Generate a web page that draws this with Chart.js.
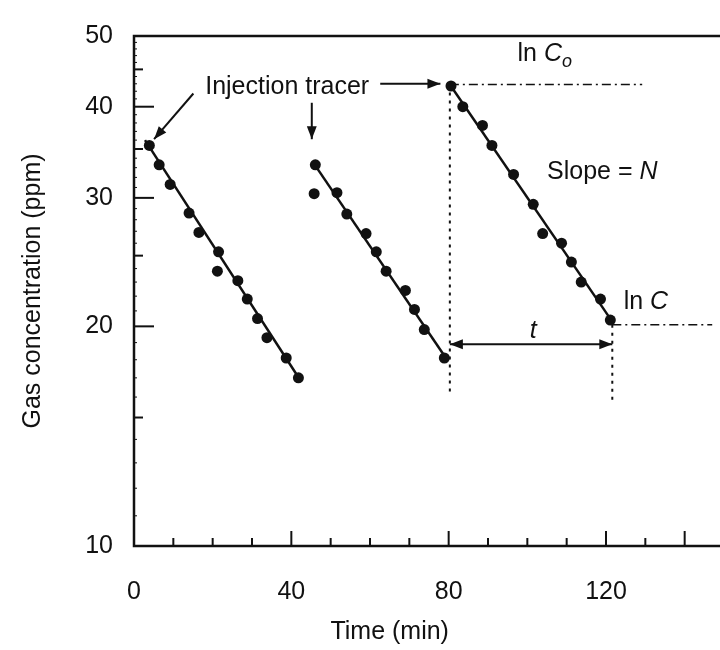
<!DOCTYPE html>
<html>
<head>
<meta charset="utf-8">
<script src="https://cdn.jsdelivr.net/npm/chart.js@4.4.1/dist/chart.umd.min.js"></script>
<style>
  html, body { margin: 0; background: #fff; overflow: hidden; }
  #wrap { width: 730px; height: 650px; }
</style>
</head>
<body>
<div id="wrap"><canvas id="tracer"></canvas></div>
<script>
// measured points, three tracer injections (time in min, concentration in ppm)
const run1Time = [3.9, 6.4, 9.2, 14.0, 16.5, 21.5, 21.2, 26.4, 28.8, 31.4, 33.8, 38.7, 41.8];
const run1Conc = [35.4, 33.3, 31.3, 28.6, 26.9, 25.3, 23.8, 23.1, 21.8, 20.5, 19.3, 18.1, 17.0];
const run2Time = [46.1, 45.8, 51.6, 54.1, 59.0, 61.6, 64.1, 69.0, 71.3, 73.8, 78.9];
const run2Conc = [33.3, 30.4, 30.5, 28.5, 26.8, 25.3, 23.8, 22.4, 21.1, 19.8, 18.1];
const run3Time = [80.6, 83.6, 88.6, 91.0, 96.5, 101.5, 103.9, 108.7, 111.2, 113.7, 118.6, 121.1];
const run3Conc = [42.7, 40.0, 37.7, 35.4, 32.3, 29.4, 26.8, 26.0, 24.5, 23.0, 21.8, 20.4];

// fitted decay lines (start, end)
const fit1Time = [2.8, 42.2];
const fit1Conc = [36.0, 16.9];
const fit2Time = [45.8, 79.6];
const fit2Conc = [33.4, 18.0];
const fit3Time = [80.3, 121.6];
const fit3Conc = [42.9, 20.3];

// construction lines for ln C0, ln C and t
const c0Time = [80.3, 129.2];
const c0Conc = [42.9, 42.9];
const cTime = [121.6, 147.0];
const cConc = [20.1, 20.1];
const drop0Time = [80.3, 80.3];
const drop0Conc = [42.9, 16.2];
const drop1Time = [121.6, 121.6];
const drop1Conc = [20.1, 15.7];
const spanTime = [80.3, 121.6];
const spanConc = [18.9, 18.9];

// "Injection tracer" arrows: [time, conc] tail and tip
const arrowFrom = [[15.1, 41.7], [45.2, 40.5], [62.6, 43.0]];
const arrowTo = [[5.1, 36.1], [45.2, 36.1], [77.9, 43.0]];

// axis ticks
const yTickValues = [10, 20, 30, 40, 50];
const xTickValues = [0, 40, 80, 120];
const xLongTicks = [40, 80, 120, 140];

const ink = '#111';
const FONT = 'Liberation Sans, Arial, Helvetica, sans-serif';
const SIZE = 25;

const pts = (xs, ys) => xs.map((v, i) => ({ x: v, y: ys[i] }));

function dots(xs, ys) {
    return {
        data: pts(xs, ys),
        showLine: false,
        pointRadius: 5.5,
        pointHoverRadius: 5.5,
        pointBackgroundColor: ink,
        pointBorderWidth: 0
    };
}

function path(xs, ys, width, dash) {
    return {
        data: pts(xs, ys),
        showLine: true,
        pointRadius: 0,
        borderColor: ink,
        borderWidth: width,
        borderDash: dash || [],
        tension: 0
    };
}

function arrowHead(ctx, x0, y0, x1, y1, size) {
    const ang = Math.atan2(y1 - y0, x1 - x0);
    const c = Math.cos(ang), s = Math.sin(ang), w = size * 0.38;
    ctx.beginPath();
    ctx.moveTo(x1, y1);
    ctx.lineTo(x1 - size * c + w * s, y1 - size * s - w * c);
    ctx.lineTo(x1 - size * c - w * s, y1 - size * s + w * c);
    ctx.closePath();
    ctx.fill();
}

// draws a run of text pieces, some italic / subscript
function richText(ctx, parts, x, y, align) {
    const fontOf = p => (p.italic ? 'italic ' : '') + (p.sub ? 18 : SIZE) + 'px ' + FONT;
    let total = 0;
    parts.forEach(p => { ctx.font = fontOf(p); total += ctx.measureText(p.t).width; });
    let cx = align === 'center' ? x - total / 2 : x;
    ctx.textAlign = 'left';
    ctx.textBaseline = 'middle';
    parts.forEach(p => {
        ctx.font = fontOf(p);
        ctx.fillText(p.t, cx, p.sub ? y + 8 : y);
        cx += ctx.measureText(p.t).width;
    });
}

const notes = [
    { x: 18.1, y: 42.5, align: 'left', parts: [{ t: 'Injection tracer' }] },
    { x: 97.5, y: 47.2, align: 'left', parts: [{ t: 'ln ' }, { t: 'C', italic: true }, { t: 'o', italic: true, sub: true }] },
    { x: 105.0, y: 32.5, align: 'left', parts: [{ t: 'Slope = ' }, { t: 'N', italic: true }] },
    { x: 124.5, y: 21.6, align: 'left', parts: [{ t: 'ln ' }, { t: 'C', italic: true }] },
    { x: 101.5, y: 19.7, align: 'center', parts: [{ t: 't', italic: true }] }
];

const extras = {
    id: 'extras',
    afterDatasetsDraw(chart) {
        const { ctx, chartArea: a, scales: { x, y } } = chart;
        ctx.save();
        ctx.strokeStyle = ink;
        ctx.fillStyle = ink;

        // frame
        ctx.lineWidth = 2.5;
        ctx.strokeRect(a.left, a.top, a.right - a.left, a.bottom - a.top);

        // inward ticks, left axis
        for (let v = 11; v < 50; v++) {
            const len = v % 10 === 0 ? 20 : (v % 5 === 0 ? 9 : 3);
            ctx.lineWidth = v % 5 === 0 ? 2 : 1;
            const py = y.getPixelForValue(v);
            ctx.beginPath();
            ctx.moveTo(a.left, py);
            ctx.lineTo(a.left + len, py);
            ctx.stroke();
        }
        // inward ticks, bottom axis
        ctx.lineWidth = 2;
        for (let v = 10; v < 150; v += 10) {
            const len = xLongTicks.includes(v) ? 15 : 8;
            const px = x.getPixelForValue(v);
            ctx.beginPath();
            ctx.moveTo(px, a.bottom);
            ctx.lineTo(px, a.bottom - len);
            ctx.stroke();
        }

        // arrows
        ctx.lineWidth = 2;
        arrowFrom.forEach((f, i) => {
            const x0 = x.getPixelForValue(f[0]), y0 = y.getPixelForValue(f[1]);
            const x1 = x.getPixelForValue(arrowTo[i][0]), y1 = y.getPixelForValue(arrowTo[i][1]);
            ctx.beginPath();
            ctx.moveTo(x0, y0);
            ctx.lineTo(x1, y1);
            ctx.stroke();
            arrowHead(ctx, x0, y0, x1, y1, 13);
        });
        const sx0 = x.getPixelForValue(spanTime[0]), sx1 = x.getPixelForValue(spanTime[1]);
        const sy = y.getPixelForValue(spanConc[0]);
        arrowHead(ctx, sx1, sy, sx0, sy, 13);
        arrowHead(ctx, sx0, sy, sx1, sy, 13);

        // labels
        notes.forEach(n => richText(ctx, n.parts, x.getPixelForValue(n.x), y.getPixelForValue(n.y), n.align));

        // x axis title, centred under the visible part of the axis
        ctx.font = SIZE + 'px ' + FONT;
        ctx.textAlign = 'center';
        ctx.textBaseline = 'middle';
        ctx.fillText('Time (min)', x.getPixelForValue(65), a.bottom + 86);
        ctx.restore();
    }
};

new Chart(document.getElementById('tracer'), {
    type: 'scatter',
    data: {
        datasets: [
            path(fit1Time, fit1Conc, 2.5),
            path(fit2Time, fit2Conc, 2.5),
            path(fit3Time, fit3Conc, 2.5),
            path(c0Time, c0Conc, 1.6, [9, 4, 2, 4]),
            path(cTime, cConc, 1.6, [9, 4, 2, 4]),
            path(drop0Time, drop0Conc, 2, [3, 5]),
            path(drop1Time, drop1Conc, 2, [3, 5]),
            path(spanTime, spanConc, 2),
            dots(run1Time, run1Conc),
            dots(run2Time, run2Conc),
            dots(run3Time, run3Conc)
        ]
    },
    options: {
        responsive: true,
        maintainAspectRatio: false,
        animation: false,
        events: [],
        layout: { padding: { top: 33, right: 6, left: 0, bottom: 0 } },
        plugins: {
            legend: { display: false },
            tooltip: { enabled: false }
        },
        scales: {
            x: {
                type: 'linear',
                min: 0,
                max: 150,
                afterFit: s => { s.height = 104; },
                afterBuildTicks: s => { s.ticks = xTickValues.map(v => ({ value: v })); },
                grid: { display: false, drawTicks: false },
                border: { display: false },
                ticks: {
                    padding: 31,
                    maxRotation: 0,
                    color: ink,
                    font: { family: FONT, size: SIZE },
                    callback: v => String(v)
                }
            },
            y: {
                type: 'logarithmic',
                min: 10,
                max: 50,
                afterFit: s => { s.width = 134; },
                afterBuildTicks: s => { s.ticks = yTickValues.map(v => ({ value: v })); },
                grid: { display: false, drawTicks: false },
                border: { display: false },
                ticks: {
                    padding: 21,
                    color: ink,
                    font: { family: FONT, size: SIZE },
                    callback: v => String(v)
                },
                title: {
                    display: true,
                    text: 'Gas concentration (ppm)',
                    color: ink,
                    font: { family: FONT, size: SIZE },
                    padding: { top: 18, bottom: 0 }
                }
            }
        }
    },
    plugins: [extras]
});
</script>
</body>
</html>
